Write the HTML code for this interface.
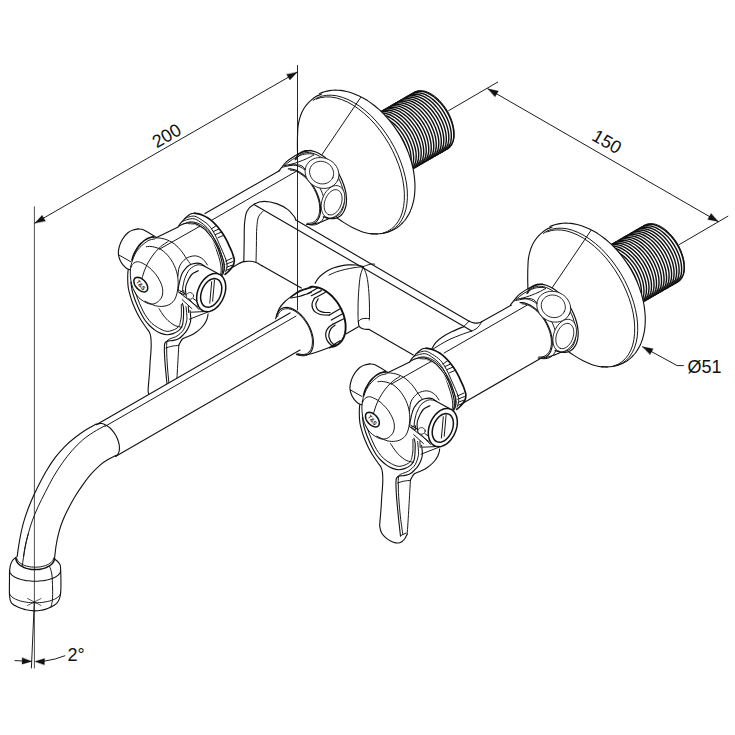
<!DOCTYPE html>
<html><head><meta charset="utf-8"><title>Faucet drawing</title>
<style>
html,body{margin:0;padding:0;background:#fff;}
body{width:735px;height:735px;overflow:hidden;font-family:"Liberation Sans",sans-serif;}
svg{display:block}
svg path{stroke:#111;stroke-linecap:round;stroke-linejoin:round}
svg path.ns{stroke:none}
svg path.tx{stroke:none;fill:#111}
svg text{font-family:"Liberation Sans",sans-serif;font-size:18px;fill:#111}
</style></head><body>
<svg width="735" height="735" viewBox="0 0 735 735">
<rect width="735" height="735" fill="#fff"/>
<defs><g id="fl" fill="none"><path d="M397.8 177.6 L447.4 149.0 L449.0 147.8 L450.4 146.4 L451.6 144.6 L452.6 142.7 L453.4 140.4 L453.9 138.0 L454.1 135.3 L454.1 132.5 L453.9 129.6 L453.4 126.6 L452.6 123.5 L451.6 120.3 L450.4 117.2 L449.0 114.1 L447.4 111.1 L445.6 108.2 L443.6 105.4 L441.5 102.8 L439.3 100.4 L437.0 98.2 L434.6 96.2 L432.2 94.5 L429.8 93.1 L427.3 92.0 L425.0 91.2 L422.7 90.8 L420.4 90.6 L418.3 90.8 L416.4 91.3 L414.6 92.1 L365.0 120.8Z" stroke-width="1.0" fill="#fff" />
<path d="M413.3 92.9 L414.8 92.1 L416.5 91.6 L418.2 91.3 L420.1 91.3 L422.0 91.4 L423.9 91.8 L425.9 92.4 L428.0 93.3 L430.0 94.3 L432.1 95.6 L434.1 97.0 L436.1 98.6 L438.1 100.4 L440.0 102.4 L441.8 104.5 L443.6 106.7 L445.2 109.0 L446.7 111.4 L448.1 113.9 L449.4 116.5 L450.5 119.1 L451.5 121.7 L452.3 124.2 L452.9 126.8 L453.4 129.3 L453.7 131.8 L453.8 134.1 L453.8 136.4 L453.6 138.5 L453.2 140.5 L452.6 142.4 L451.9 144.1 L451.0 145.6 L449.9 146.9 L448.7 148.0 L447.4 149.0" stroke-width="1.42" fill="none" />
<path d="M451.3 143.1 L450.6 144.8 L449.7 146.3 L448.6 147.6 L447.4 148.8 L446.1 149.7" stroke-width="0.7" fill="none" />
<path d="M410.8 94.3 L412.3 93.6 L414.0 93.1 L415.7 92.8 L417.5 92.7 L419.4 92.9 L421.4 93.3 L423.4 93.9 L425.5 94.7 L427.5 95.8 L429.6 97.0 L431.6 98.5 L433.6 100.1 L435.6 101.9 L437.5 103.8 L439.3 105.9 L441.1 108.2 L442.7 110.5 L444.2 112.9 L445.6 115.4 L446.9 117.9 L448.0 120.5 L449.0 123.1 L449.8 125.7 L450.4 128.2 L450.9 130.8 L451.2 133.2 L451.3 135.6 L451.3 137.8 L451.1 140.0 L450.7 142.0 L450.1 143.8 L449.3 145.5 L448.4 147.0 L447.4 148.4 L446.2 149.5 L444.9 150.4" stroke-width="1.42" fill="none" />
<path d="M448.8 144.6 L448.1 146.3 L447.2 147.8 L446.1 149.1 L444.9 150.2 L443.6 151.1" stroke-width="0.7" fill="none" />
<path d="M408.3 95.8 L409.8 95.0 L411.5 94.5 L413.2 94.2 L415.0 94.2 L416.9 94.3 L418.9 94.7 L420.9 95.3 L422.9 96.2 L425.0 97.2 L427.1 98.5 L429.1 99.9 L431.1 101.5 L433.1 103.3 L435.0 105.3 L436.8 107.4 L438.5 109.6 L440.2 111.9 L441.7 114.3 L443.1 116.8 L444.4 119.4 L445.5 122.0 L446.5 124.6 L447.3 127.1 L447.9 129.7 L448.4 132.2 L448.7 134.7 L448.8 137.0 L448.8 139.3 L448.5 141.4 L448.1 143.4 L447.6 145.3 L446.8 147.0 L445.9 148.5 L444.9 149.8 L443.7 150.9 L442.4 151.9" stroke-width="1.42" fill="none" />
<path d="M446.3 146.0 L445.6 147.7 L444.7 149.2 L443.6 150.5 L442.4 151.7 L441.1 152.6" stroke-width="0.7" fill="none" />
<path d="M405.8 97.2 L407.3 96.5 L408.9 96.0 L410.7 95.7 L412.5 95.6 L414.4 95.8 L416.4 96.2 L418.4 96.8 L420.4 97.6 L422.5 98.7 L424.5 99.9 L426.6 101.4 L428.6 103.0 L430.6 104.8 L432.5 106.7 L434.3 108.8 L436.0 111.1 L437.7 113.4 L439.2 115.8 L440.6 118.3 L441.9 120.8 L443.0 123.4 L444.0 126.0 L444.8 128.6 L445.4 131.1 L445.9 133.7 L446.2 136.1 L446.3 138.5 L446.3 140.7 L446.0 142.9 L445.6 144.9 L445.1 146.7 L444.3 148.4 L443.4 149.9 L442.4 151.3 L441.2 152.4 L439.8 153.3" stroke-width="1.42" fill="none" />
<path d="M443.8 147.5 L443.1 149.2 L442.2 150.7 L441.1 152.0 L439.9 153.1 L438.6 154.0" stroke-width="0.7" fill="none" />
<path d="M403.3 98.7 L404.8 97.9 L406.4 97.4 L408.2 97.1 L410.0 97.1 L411.9 97.2 L413.9 97.6 L415.9 98.2 L417.9 99.1 L420.0 100.1 L422.0 101.4 L424.1 102.8 L426.1 104.4 L428.0 106.2 L430.0 108.2 L431.8 110.3 L433.5 112.5 L435.2 114.8 L436.7 117.2 L438.1 119.7 L439.4 122.3 L440.5 124.9 L441.5 127.5 L442.3 130.0 L442.9 132.6 L443.4 135.1 L443.7 137.6 L443.8 139.9 L443.7 142.2 L443.5 144.3 L443.1 146.3 L442.5 148.2 L441.8 149.9 L440.9 151.4 L439.9 152.7 L438.7 153.8 L437.3 154.8" stroke-width="1.42" fill="none" />
<path d="M441.3 148.9 L440.5 150.6 L439.7 152.1 L438.6 153.4 L437.4 154.6 L436.1 155.5" stroke-width="0.7" fill="none" />
<path d="M400.8 100.1 L402.3 99.4 L403.9 98.9 L405.7 98.6 L407.5 98.5 L409.4 98.7 L411.4 99.1 L413.4 99.7 L415.4 100.5 L417.5 101.6 L419.5 102.8 L421.6 104.3 L423.6 105.9 L425.5 107.7 L427.4 109.6 L429.3 111.7 L431.0 114.0 L432.7 116.3 L434.2 118.7 L435.6 121.2 L436.8 123.7 L438.0 126.3 L438.9 128.9 L439.7 131.5 L440.4 134.0 L440.9 136.6 L441.2 139.0 L441.3 141.4 L441.2 143.6 L441.0 145.8 L440.6 147.8 L440.0 149.6 L439.3 151.3 L438.4 152.8 L437.3 154.2 L436.1 155.3 L434.8 156.2" stroke-width="1.42" fill="none" />
<path d="M438.8 150.4 L438.0 152.1 L437.1 153.6 L436.1 154.9 L434.9 156.0 L433.6 156.9" stroke-width="0.7" fill="none" />
<path d="M398.2 101.6 L399.8 100.8 L401.4 100.3 L403.2 100.0 L405.0 100.0 L406.9 100.1 L408.9 100.5 L410.9 101.1 L412.9 102.0 L415.0 103.0 L417.0 104.3 L419.1 105.7 L421.1 107.3 L423.0 109.1 L424.9 111.1 L426.8 113.2 L428.5 115.4 L430.1 117.7 L431.7 120.1 L433.1 122.6 L434.3 125.2 L435.5 127.8 L436.4 130.4 L437.2 132.9 L437.9 135.5 L438.4 138.0 L438.7 140.5 L438.8 142.8 L438.7 145.1 L438.5 147.2 L438.1 149.2 L437.5 151.1 L436.8 152.8 L435.9 154.3 L434.8 155.6 L433.6 156.7 L432.3 157.7" stroke-width="1.42" fill="none" />
<path d="M436.3 151.8 L435.5 153.5 L434.6 155.0 L433.6 156.3 L432.4 157.5 L431.0 158.4" stroke-width="0.7" fill="none" />
<path d="M395.7 103.0 L397.3 102.3 L398.9 101.8 L400.6 101.5 L402.5 101.4 L404.4 101.6 L406.3 102.0 L408.3 102.6 L410.4 103.4 L412.4 104.5 L414.5 105.7 L416.5 107.2 L418.6 108.8 L420.5 110.6 L422.4 112.5 L424.2 114.6 L426.0 116.9 L427.6 119.2 L429.2 121.6 L430.6 124.1 L431.8 126.6 L432.9 129.2 L433.9 131.8 L434.7 134.4 L435.4 136.9 L435.8 139.5 L436.1 141.9 L436.3 144.3 L436.2 146.5 L436.0 148.7 L435.6 150.7 L435.0 152.5 L434.3 154.2 L433.4 155.7 L432.3 157.1 L431.1 158.2 L429.8 159.1" stroke-width="1.42" fill="none" />
<path d="M433.8 153.3 L433.0 155.0 L432.1 156.5 L431.1 157.8 L429.9 158.9 L428.5 159.8" stroke-width="0.7" fill="none" />
<path d="M393.2 104.5 L394.8 103.7 L396.4 103.2 L398.1 102.9 L400.0 102.9 L401.9 103.0 L403.8 103.4 L405.8 104.0 L407.9 104.9 L409.9 105.9 L412.0 107.2 L414.0 108.6 L416.0 110.2 L418.0 112.0 L419.9 114.0 L421.7 116.1 L423.5 118.3 L425.1 120.6 L426.6 123.0 L428.0 125.5 L429.3 128.1 L430.4 130.7 L431.4 133.3 L432.2 135.8 L432.9 138.4 L433.3 140.9 L433.6 143.4 L433.8 145.7 L433.7 148.0 L433.5 150.1 L433.1 152.1 L432.5 154.0 L431.8 155.7 L430.9 157.2 L429.8 158.5 L428.6 159.6 L427.3 160.6" stroke-width="1.42" fill="none" />
<path d="M431.2 154.7 L430.5 156.4 L429.6 157.9 L428.6 159.2 L427.4 160.4 L426.0 161.3" stroke-width="0.7" fill="none" />
<path d="M390.7 105.9 L392.2 105.2 L393.9 104.7 L395.6 104.4 L397.4 104.3 L399.4 104.5 L401.3 104.9 L403.3 105.5 L405.4 106.3 L407.4 107.4 L409.5 108.6 L411.5 110.1 L413.5 111.7 L415.5 113.5 L417.4 115.4 L419.2 117.5 L421.0 119.8 L422.6 122.1 L424.1 124.5 L425.5 127.0 L426.8 129.5 L427.9 132.1 L428.9 134.7 L429.7 137.3 L430.3 139.8 L430.8 142.4 L431.1 144.8 L431.2 147.2 L431.2 149.4 L431.0 151.6 L430.6 153.6 L430.0 155.4 L429.2 157.1 L428.3 158.6 L427.3 160.0 L426.1 161.1 L424.8 162.0" stroke-width="1.42" fill="none" />
<path d="M428.7 156.2 L428.0 157.9 L427.1 159.4 L426.0 160.7 L424.8 161.8 L423.5 162.7" stroke-width="0.7" fill="none" />
<path d="M388.2 107.4 L389.7 106.6 L391.4 106.1 L393.1 105.8 L394.9 105.8 L396.8 105.9 L398.8 106.3 L400.8 106.9 L402.9 107.8 L404.9 108.8 L407.0 110.1 L409.0 111.5 L411.0 113.1 L413.0 114.9 L414.9 116.9 L416.7 119.0 L418.5 121.2 L420.1 123.5 L421.6 125.9 L423.0 128.4 L424.3 131.0 L425.4 133.6 L426.4 136.2 L427.2 138.7 L427.8 141.3 L428.3 143.8 L428.6 146.3 L428.7 148.6 L428.7 150.9 L428.5 153.0 L428.0 155.0 L427.5 156.9 L426.7 158.6 L425.8 160.1 L424.8 161.4 L423.6 162.5 L422.3 163.5" stroke-width="1.42" fill="none" />
<path d="M426.2 157.6 L425.5 159.3 L424.6 160.8 L423.5 162.1 L422.3 163.3 L421.0 164.2" stroke-width="0.7" fill="none" />
<path d="M385.7 108.8 L387.2 108.1 L388.9 107.6 L390.6 107.3 L392.4 107.2 L394.3 107.4 L396.3 107.8 L398.3 108.4 L400.3 109.2 L402.4 110.3 L404.5 111.5 L406.5 113.0 L408.5 114.6 L410.5 116.4 L412.4 118.3 L414.2 120.4 L415.9 122.7 L417.6 125.0 L419.1 127.4 L420.5 129.9 L421.8 132.4 L422.9 135.0 L423.9 137.6 L424.7 140.2 L425.3 142.7 L425.8 145.3 L426.1 147.7 L426.2 150.1 L426.2 152.3 L425.9 154.5 L425.5 156.5 L425.0 158.3 L424.2 160.0 L423.3 161.5 L422.3 162.9 L421.1 164.0 L419.7 164.9" stroke-width="1.42" fill="none" />
<path d="M423.7 159.1 L423.0 160.8 L422.1 162.3 L421.0 163.6 L419.8 164.7 L418.5 165.6" stroke-width="0.7" fill="none" />
<path d="M383.2 110.3 L384.7 109.5 L386.3 109.0 L388.1 108.7 L389.9 108.7 L391.8 108.8 L393.8 109.2 L395.8 109.8 L397.8 110.7 L399.9 111.7 L401.9 113.0 L404.0 114.4 L406.0 116.0 L408.0 117.8 L409.9 119.8 L411.7 121.9 L413.4 124.1 L415.1 126.4 L416.6 128.8 L418.0 131.3 L419.3 133.9 L420.4 136.5 L421.4 139.1 L422.2 141.6 L422.8 144.2 L423.3 146.7 L423.6 149.2 L423.7 151.5 L423.7 153.8 L423.4 155.9 L423.0 157.9 L422.5 159.8 L421.7 161.5 L420.8 163.0 L419.8 164.3 L418.6 165.4 L417.2 166.4" stroke-width="1.42" fill="none" />
<path d="M421.2 160.5 L420.5 162.2 L419.6 163.7 L418.5 165.0 L417.3 166.2 L416.0 167.1" stroke-width="0.7" fill="none" />
<path d="M380.7 111.7 L382.2 111.0 L383.8 110.5 L385.6 110.2 L387.4 110.1 L389.3 110.3 L391.3 110.7 L393.3 111.3 L395.3 112.1 L397.4 113.2 L399.4 114.4 L401.5 115.9 L403.5 117.5 L405.4 119.3 L407.3 121.2 L409.2 123.3 L410.9 125.6 L412.6 127.9 L414.1 130.3 L415.5 132.8 L416.8 135.3 L417.9 137.9 L418.8 140.5 L419.7 143.1 L420.3 145.6 L420.8 148.2 L421.1 150.6 L421.2 153.0 L421.1 155.2 L420.9 157.4 L420.5 159.4 L419.9 161.2 L419.2 162.9 L418.3 164.4 L417.3 165.8 L416.1 166.9 L414.7 167.8" stroke-width="1.42" fill="none" />
<path d="M418.7 162.0 L417.9 163.7 L417.0 165.2 L416.0 166.5 L414.8 167.6 L413.5 168.5" stroke-width="0.7" fill="none" />
<path d="M378.2 113.2 L379.7 112.4 L381.3 111.9 L383.1 111.6 L384.9 111.6 L386.8 111.7 L388.8 112.1 L390.8 112.7 L392.8 113.6 L394.9 114.6 L396.9 115.9 L399.0 117.3 L401.0 118.9 L402.9 120.7 L404.8 122.7 L406.7 124.8 L408.4 127.0 L410.0 129.3 L411.6 131.7 L413.0 134.2 L414.2 136.8 L415.4 139.4 L416.3 142.0 L417.1 144.5 L417.8 147.1 L418.3 149.6 L418.6 152.1 L418.7 154.4 L418.6 156.7 L418.4 158.8 L418.0 160.8 L417.4 162.7 L416.7 164.4 L415.8 165.9 L414.7 167.2 L413.5 168.3 L412.2 169.3" stroke-width="1.42" fill="none" />
<path d="M416.2 163.4 L415.4 165.1 L414.5 166.6 L413.5 167.9 L412.3 169.1 L411.0 170.0" stroke-width="0.7" fill="none" />
<path d="M375.6 114.6 L377.2 113.9 L378.8 113.4 L380.6 113.1 L382.4 113.0 L384.3 113.2 L386.2 113.6 L388.3 114.2 L390.3 115.0 L392.4 116.1 L394.4 117.3 L396.4 118.8 L398.5 120.4 L400.4 122.2 L402.3 124.1 L404.2 126.2 L405.9 128.5 L407.5 130.8 L409.1 133.2 L410.5 135.7 L411.7 138.2 L412.9 140.8 L413.8 143.4 L414.6 146.0 L415.3 148.5 L415.8 151.1 L416.1 153.5 L416.2 155.9 L416.1 158.1 L415.9 160.3 L415.5 162.3 L414.9 164.1 L414.2 165.8 L413.3 167.3 L412.2 168.7 L411.0 169.8 L409.7 170.7" stroke-width="1.42" fill="none" />
<path d="M413.7 164.9 L412.9 166.6 L412.0 168.1 L411.0 169.4 L409.8 170.5 L408.4 171.4" stroke-width="0.7" fill="none" />
<path d="M373.1 116.1 L374.7 115.3 L376.3 114.8 L378.0 114.5 L379.9 114.5 L381.8 114.6 L383.7 115.0 L385.7 115.6 L387.8 116.5 L389.8 117.5 L391.9 118.8 L393.9 120.2 L395.9 121.8 L397.9 123.6 L399.8 125.6 L401.6 127.7 L403.4 129.9 L405.0 132.2 L406.6 134.6 L408.0 137.1 L409.2 139.7 L410.3 142.3 L411.3 144.9 L412.1 147.4 L412.8 150.0 L413.2 152.5 L413.5 155.0 L413.7 157.3 L413.6 159.6 L413.4 161.7 L413.0 163.7 L412.4 165.6 L411.7 167.3 L410.8 168.8 L409.7 170.1 L408.5 171.2 L407.2 172.2" stroke-width="1.42" fill="none" />
<path d="M411.2 166.3 L410.4 168.0 L409.5 169.5 L408.5 170.8 L407.3 172.0 L405.9 172.9" stroke-width="0.7" fill="none" />
<path d="M370.6 117.5 L372.1 116.8 L373.8 116.3 L375.5 116.0 L377.4 115.9 L379.3 116.1 L381.2 116.5 L383.2 117.1 L385.3 117.9 L387.3 119.0 L389.4 120.2 L391.4 121.7 L393.4 123.3 L395.4 125.1 L397.3 127.0 L399.1 129.1 L400.9 131.4 L402.5 133.7 L404.0 136.1 L405.4 138.6 L406.7 141.1 L407.8 143.7 L408.8 146.3 L409.6 148.9 L410.3 151.4 L410.7 154.0 L411.0 156.4 L411.2 158.8 L411.1 161.0 L410.9 163.2 L410.5 165.2 L409.9 167.0 L409.2 168.7 L408.3 170.2 L407.2 171.6 L406.0 172.7 L404.7 173.6" stroke-width="1.42" fill="none" />
<path d="M408.6 167.8 L407.9 169.5 L407.0 171.0 L406.0 172.3 L404.8 173.4 L403.4 174.3" stroke-width="0.7" fill="none" />
<path d="M368.1 119.0 L369.6 118.2 L371.3 117.7 L373.0 117.4 L374.8 117.4 L376.7 117.5 L378.7 117.9 L380.7 118.5 L382.8 119.4 L384.8 120.4 L386.9 121.7 L388.9 123.1 L390.9 124.7 L392.9 126.5 L394.8 128.5 L396.6 130.6 L398.4 132.8 L400.0 135.1 L401.5 137.5 L402.9 140.0 L404.2 142.6 L405.3 145.2 L406.3 147.8 L407.1 150.3 L407.7 152.9 L408.2 155.4 L408.5 157.9 L408.6 160.2 L408.6 162.5 L408.4 164.6 L408.0 166.6 L407.4 168.5 L406.6 170.2 L405.7 171.7 L404.7 173.0 L403.5 174.1 L402.2 175.1" stroke-width="1.42" fill="none" />
<path d="M406.1 169.2 L405.4 170.9 L404.5 172.4 L403.4 173.7 L402.2 174.9 L400.9 175.8" stroke-width="0.7" fill="none" />
<path d="M365.6 120.4 L367.1 119.7 L368.8 119.2 L370.5 118.9 L372.3 118.8 L374.2 119.0 L376.2 119.4 L378.2 120.0 L380.3 120.8 L382.3 121.9 L384.4 123.1 L386.4 124.6 L388.4 126.2 L390.4 128.0 L392.3 129.9 L394.1 132.0 L395.9 134.3 L397.5 136.6 L399.0 139.0 L400.4 141.5 L401.7 144.0 L402.8 146.6 L403.8 149.2 L404.6 151.8 L405.2 154.3 L405.7 156.9 L406.0 159.3 L406.1 161.7 L406.1 163.9 L405.8 166.1 L405.4 168.1 L404.9 169.9 L404.1 171.6 L403.2 173.1 L402.2 174.5 L401.0 175.6 L399.7 176.5" stroke-width="1.42" fill="none" />
<path d="M403.6 170.7 L402.9 172.4 L402.0 173.9 L400.9 175.2 L399.7 176.3 L398.4 177.2" stroke-width="0.7" fill="none" />
<path d="M394.7 229.1 L391.5 230.7 L388.1 232.0 L384.6 233.0 L380.9 233.6 L377.1 233.9 L373.3 233.8 L369.3 233.3 L365.2 232.5 L361.1 231.4 L357.0 229.9 L352.9 228.1 L348.8 226.0 L344.7 223.6 L340.7 220.8 L336.8 217.8 L332.9 214.5 L329.2 211.0 L325.6 207.2 L322.1 203.2 L318.9 199.0 L315.7 194.6 L312.8 190.0 L310.1 185.3 L307.6 180.5 L305.4 175.7 L303.4 170.7 L301.7 165.7 L300.2 160.7 L299.0 155.7 L298.0 150.7 L297.4 145.8 L297.0 140.9 L297.0 136.2 L297.2 131.6 L297.7 127.1 L298.4 122.8 L299.5 118.7 L300.8 114.8 L302.5 111.1 L304.3 107.7 L306.4 104.6 L308.8 101.7 L311.4 99.1 L314.2 96.8 L317.2 94.9 L320.4 93.3 L323.8 92.0 L327.3 91.0 L331.0 90.4 L334.8 90.1 L338.7 90.2 L342.6 90.7 L346.7 91.5 L350.8 92.6 L354.9 94.1 L359.0 95.9 L363.1 98.0 L367.2 100.4 L371.2 103.2 L375.1 106.2 L379.0 109.5 L382.7 113.0 L386.3 116.8 L389.8 120.8 L393.1 125.0 L396.2 129.4 L399.1 134.0 L401.8 138.7 L404.3 143.5 L406.5 148.3 L408.5 153.3 L410.3 158.3 L411.7 163.3 L413.0 168.3 L413.9 173.3 L414.5 178.2 L414.9 183.1 L415.0 187.8 L414.8 192.4 L414.3 196.9 L413.5 201.2 L412.4 205.3 L411.1 209.2 L409.5 212.9 L407.6 216.3 L405.5 219.4 L403.1 222.3 L400.5 224.9 L397.7 227.2 L394.7 229.1Z" stroke-width="1.0" fill="#fff" class="ns"/>
<path d="M321.6 94.1 L316.0 96.5 L311.8 99.6 L307.6 103.6 L304.1 108.3 L301.6 113.0 L299.8 118.1 L298.5 123.5 L297.8 129.0 L297.4 145.0 L297.8 160.0 L310.0 200.0 L335.2 216.7 L344.0 222.6 L353.3 228.1 L360.0 230.9 L365.5 232.7 L371.5 233.9 L377.0 234.0Z" stroke-width="1.0" fill="#fff" class="ns"/>
<path d="M319.6 93.6 L322.0 92.6 L324.5 91.7 L327.0 91.1 L329.7 90.6 L332.4 90.3 L335.2 90.1 L338.0 90.2 L340.8 90.4 L343.7 90.9 L346.7 91.5 L349.6 92.2 L352.6 93.2 L355.6 94.4 L358.6 95.7 L361.6 97.2 L364.5 98.8 L367.5 100.6 L370.4 102.6 L373.3 104.7 L376.1 107.0 L378.9 109.4 L381.6 111.9 L384.3 114.6 L386.8 117.4 L389.4 120.3 L391.8 123.3 L394.1 126.4 L396.3 129.6 L398.5 132.9 L400.5 136.3 L402.4 139.7 L404.2 143.2 L405.8 146.7 L407.4 150.3 L408.8 153.9 L410.0 157.5 L411.2 161.2 L412.1 164.8 L413.0 168.4 L413.7 172.1 L414.2 175.6 L414.6 179.2 L414.9 182.7 L415.0 186.2 L414.9 189.6 L414.7 192.9 L414.4 196.1 L413.9 199.3 L413.2 202.3 L412.4 205.3 L411.5 208.1 L410.4 210.9 L409.2 213.5 L407.8 215.9 L406.3 218.3 L404.7 220.5 L402.9 222.5 L401.1 224.4 L399.1 226.1 L397.0 227.7 L394.8 229.1 L392.5 230.3 L390.1 231.3 L387.6 232.2 L385.1 232.9 L382.4 233.4 L379.7 233.7 L377.0 233.9 L374.1 233.8 L371.3 233.6" stroke-width="1.12" fill="none" />
<path d="M387.5 232.2 L391.8 230.3 L395.6 227.5 L399.0 224.1 L401.8 219.9 L404.1 215.2 L405.8 209.8 L406.9 204.0 L407.4 197.6 L407.3 191.0 L406.6 184.0 L405.2 176.7 L403.3 169.4 L400.8 162.0 L397.8 154.6 L394.3 147.3 L390.3 140.2 L385.9 133.4 L381.1 127.0 L376.0 121.0 L370.7 115.4 L365.1 110.5 L359.4 106.1 L353.7 102.5 L348.0 99.5 L342.3 97.3 L336.8 95.8 L331.4 95.2 L326.3 95.3 L321.5 96.2 L317.1 97.9 L313.1 100.4" stroke-width="0.98" fill="none" />
<path d="M383.3 233.0 L387.7 231.3 L391.6 228.8 L395.1 225.6 L398.0 221.8 L400.5 217.2 L402.4 212.1 L403.6 206.5 L404.3 200.3 L404.4 193.8 L403.9 187.0 L402.8 179.9 L401.1 172.6 L398.8 165.3 L395.9 158.0 L392.6 150.7 L388.8 143.7 L384.5 136.8 L379.9 130.3 L375.0 124.2 L369.8 118.6 L364.3 113.5 L358.7 109.0 L353.1 105.2 L347.4 102.0 L341.7 99.6 L336.2 97.9 L330.9 97.0 L325.7 96.9 L320.9 97.6 L316.4 99.0" stroke-width="0.98" fill="none" />
<path d="M321.6 94.1 C320.7 94.5 317.6 95.6 316.0 96.5 C314.4 97.4 313.2 98.4 311.8 99.6 C310.4 100.8 308.9 102.1 307.6 103.6 C306.3 105.0 305.1 106.7 304.1 108.3 C303.1 109.9 302.3 111.4 301.6 113.0 C300.9 114.6 300.3 116.3 299.8 118.1 C299.3 119.8 298.8 121.7 298.5 123.5 C298.2 125.3 298.0 125.4 297.8 129.0 C297.6 132.6 297.4 139.8 297.4 145.0 C297.4 150.2 297.7 157.5 297.8 160.0" stroke-width="1.12" fill="none" />
<path d="M335.2 216.7 C336.7 217.7 341.0 220.7 344.0 222.6 C347.0 224.5 350.6 226.7 353.3 228.1 C356.0 229.5 358.0 230.1 360.0 230.9 C362.0 231.7 363.6 232.2 365.5 232.7 C367.4 233.2 369.6 233.7 371.5 233.9 C373.4 234.1 376.1 234.0 377.0 234.0" stroke-width="1.12" fill="none" />
<path d="M360.7 97.4 L321.6 155.1" stroke-width="0.98" fill="none" /></g>
<g id="nt" fill="none"><path d="M323.3 216.8 L326.0 217.8 L328.7 218.5 L331.3 218.7 L333.8 218.6 L336.1 218.1 L338.2 217.3 L340.2 216.0 L341.9 214.5 L343.3 212.5 L344.5 210.3 L345.4 207.8 L346.1 205.0 L346.4 202.0 L346.5 198.8 L346.2 195.4 L345.7 191.9 L344.8 188.3 L343.7 184.7 L342.3 181.1 L340.7 177.5 L338.9 174.1 L336.8 170.7 L334.5 167.5 L332.1 164.4 L329.6 161.6 L326.9 159.1 L324.2 156.8 L321.4 154.9 L318.6 153.3 L315.8 152.0 L313.0 151.1 L310.4 150.6 L307.8 150.5 L305.4 150.7 L303.2 151.3 L301.1 152.3 L299.3 153.7 L297.6 155.4 L296.3 157.5 L295.2 159.8 L303.2 151.9 L295.0 155.7 L286.3 161.9 L278.8 171.3 L288.3 168.9 L290.3 168.9 L292.5 169.2 L294.7 169.8 L297.0 170.7 L299.3 171.9 L301.6 173.4 L303.9 175.2 L306.1 177.2 L308.2 179.5 L310.3 181.9 L312.2 184.5 L313.9 187.2 L315.5 190.1 L316.9 193.0 L318.1 196.0 L319.1 199.0 L319.8 201.9 L320.3 204.8 L320.6 207.6 L320.6 210.3 L320.4 212.8 L319.9 215.1 L319.2 217.2 L318.3 219.1 L317.1 220.8 L315.8 222.1 L314.2 223.2 L312.5 224.0 L310.6 224.4 L308.6 224.5 L306.5 224.4 L311.9 224.5 L322.6 221.4Z" stroke-width="1.0" fill="#fff" class="ns"/>
<path d="M323.3 216.8 L326.0 217.8 L328.7 218.5 L331.3 218.7 L333.8 218.6 L336.1 218.1 L338.2 217.3 L340.2 216.0 L341.9 214.5 L343.3 212.5 L344.5 210.3 L345.4 207.8 L346.1 205.0 L346.4 202.0 L346.5 198.8 L346.2 195.4 L345.7 191.9 L344.8 188.3 L343.7 184.7 L342.3 181.1 L340.7 177.5 L338.9 174.1 L336.8 170.7 L334.5 167.5 L332.1 164.4 L329.6 161.6 L326.9 159.1 L324.2 156.8 L321.4 154.9 L318.6 153.3 L315.8 152.0 L313.0 151.1 L310.4 150.6 L307.8 150.5 L305.4 150.7 L303.2 151.3 L301.1 152.3 L299.3 153.7 L297.6 155.4 L296.3 157.5 L295.2 159.8" stroke-width="1.2" fill="none" />
<path d="M325.6 217.2 L328.1 217.7 L330.5 217.9 L332.8 217.7 L335.0 217.1 L337.0 216.2 L338.8 214.9 L340.3 213.3 L341.6 211.4 L342.7 209.1 L343.5 206.7 L344.0 203.9 L344.3 201.0 L344.3 197.9 L343.9 194.7 L343.3 191.3 L342.5 187.9 L341.4 184.4 L340.0 181.0 L338.4 177.6 L336.6 174.3 L334.5 171.1 L332.3 168.1 L330.0 165.2 L327.5 162.6 L325.0 160.3 L322.3 158.2 L319.7 156.4 L317.0 154.9 L314.4 153.8 L311.8 153.0 L309.3 152.6 L306.8 152.5 L304.6 152.9 L302.5 153.5 L300.5 154.5 L298.8 155.9 L297.3 157.6 L296.1 159.6" stroke-width="0.98" fill="none" />
<path d="M278.8 171.3 C280.1 169.7 283.6 164.5 286.3 161.9 C289.0 159.3 292.2 157.4 295.0 155.7 C297.8 154.0 300.5 152.8 303.2 151.9 C305.9 151.0 309.7 150.6 311.0 150.3" stroke-width="1.12" fill="none" />
<path d="M311.9 224.5 C313.7 224.0 319.0 222.8 322.6 221.4 C326.2 220.1 331.9 217.2 333.8 216.4" stroke-width="1.12" fill="none" />
<path d="M306.5 224.4 L308.6 224.5 L310.6 224.4 L312.5 224.0 L314.2 223.2 L315.8 222.1 L317.1 220.8 L318.3 219.1 L319.2 217.2 L319.9 215.1 L320.4 212.8 L320.6 210.3 L320.6 207.6 L320.3 204.8 L319.8 201.9 L319.1 199.0 L318.1 196.0 L316.9 193.0 L315.5 190.1 L313.9 187.2 L312.2 184.5 L310.3 181.9 L308.2 179.5 L306.1 177.2 L303.9 175.2 L301.6 173.4 L299.3 171.9 L297.0 170.7 L294.7 169.8 L292.5 169.2 L290.3 168.9 L288.3 168.9" stroke-width="1.12" fill="none" />
<path d="M307.1 223.3 L309.1 223.3 L311.0 223.1 L312.7 222.5 L314.2 221.6 L315.6 220.5 L316.8 219.1 L317.9 217.4 L318.7 215.6 L319.2 213.5 L319.6 211.2 L319.7 208.7 L319.6 206.2 L319.3 203.5 L318.7 200.7 L317.9 197.9 L316.9 195.1 L315.7 192.3 L314.4 189.5 L312.8 186.8 L311.1 184.3 L309.3 181.9 L307.3 179.6 L305.3 177.5 L303.2 175.7 L301.0 174.1 L298.8 172.7 L296.6 171.6 L294.5 170.8 L292.4 170.3 L290.3 170.1" stroke-width="0.98" fill="none" />
<path d="M308.9 224.7 L311.2 225.0 L313.4 225.0 L315.5 224.7 L317.4 224.1 L319.2 223.2 L320.7 221.9 L322.1 220.4 L323.3 218.5 L324.2 216.5 L324.8 214.1 L325.3 211.6 L325.4 208.9 L325.3 206.0 L325.0 203.0 L324.4 200.0 L323.6 196.8 L322.5 193.7 L321.2 190.5 L319.7 187.4 L318.0 184.4 L316.1 181.5 L314.1 178.8 L312.0 176.2 L309.7 173.9 L307.3 171.7 L304.9 169.9 L302.5 168.2 L300.1 166.9 L297.7 165.9 L295.3 165.2 L293.0 164.9 L290.8 164.9 L288.7 165.2" stroke-width="0.98" fill="none" />
<path d="M337.7 180.3 L336.5 182.3 L335.0 184.2 L333.1 185.7 L331.0 186.9 L328.6 187.8 L326.1 188.3 L323.5 188.4 L320.8 188.2 L318.2 187.6 L315.7 186.6 L313.3 185.3 L311.1 183.7 L309.2 181.8 L307.7 179.7 L306.4 177.4 L305.6 175.1 L305.2 172.7 L305.1 170.2 L305.5 167.9 L306.3 165.7 L307.5 163.7 L309.0 161.8 L310.9 160.3 L313.0 159.1 L315.4 158.2 L317.9 157.7 L320.5 157.6 L323.2 157.8 L325.8 158.4 L328.3 159.4 L330.7 160.7 L332.9 162.3 L334.8 164.2 L336.3 166.3 L337.6 168.6 L338.4 170.9 L338.8 173.3 L338.9 175.8 L338.5 178.1 L337.7 180.3Z" stroke-width="0.9" fill="#fff" />
<path d="M332.7 177.8 L331.8 179.3 L330.7 180.6 L329.3 181.8 L327.8 182.7 L326.1 183.4 L324.3 183.8 L322.4 183.9 L320.6 183.8 L318.7 183.3 L316.9 182.7 L315.2 181.7 L313.7 180.6 L312.4 179.2 L311.3 177.7 L310.5 176.1 L309.9 174.3 L309.6 172.6 L309.6 170.8 L309.9 169.1 L310.5 167.4 L311.4 165.9 L312.5 164.6 L313.9 163.4 L315.4 162.5 L317.1 161.8 L318.9 161.4 L320.8 161.3 L322.6 161.4 L324.5 161.9 L326.3 162.5 L328.0 163.5 L329.5 164.6 L330.8 166.0 L331.9 167.5 L332.7 169.1 L333.3 170.9 L333.6 172.6 L333.6 174.4 L333.3 176.1 L332.7 177.8Z" stroke-width="0.9" fill="none" />
<path d="M327.3 217.6 L325.7 216.8 L324.3 215.7 L323.2 214.2 L322.3 212.4 L321.6 210.3 L321.3 208.0 L321.2 205.6 L321.4 203.1 L321.9 200.6 L322.7 198.0 L323.7 195.6 L324.9 193.3 L326.4 191.3 L328.0 189.5 L329.8 188.0 L331.6 186.8 L333.4 186.0 L335.3 185.6 L337.1 185.6 L338.7 186.0 L340.3 186.8 L341.7 187.9 L342.8 189.4 L343.7 191.2 L344.4 193.3 L344.7 195.6 L344.8 198.0 L344.6 200.5 L344.1 203.0 L343.3 205.6 L342.3 208.0 L341.1 210.3 L339.6 212.3 L338.0 214.1 L336.2 215.6 L334.4 216.8 L332.6 217.6 L330.7 218.0 L328.9 218.0 L327.3 217.6Z" stroke-width="0.9" fill="#fff" />
<path d="M328.6 214.6 L327.5 214.0 L326.4 213.1 L325.6 212.0 L324.9 210.6 L324.4 209.0 L324.2 207.2 L324.1 205.4 L324.3 203.4 L324.7 201.4 L325.3 199.5 L326.1 197.6 L327.1 195.8 L328.2 194.2 L329.4 192.8 L330.8 191.6 L332.1 190.7 L333.6 190.0 L335.0 189.7 L336.3 189.7 L337.6 190.0 L338.7 190.6 L339.8 191.5 L340.6 192.6 L341.3 194.0 L341.8 195.6 L342.0 197.4 L342.1 199.2 L341.9 201.2 L341.5 203.2 L340.9 205.1 L340.1 207.0 L339.1 208.8 L338.0 210.4 L336.8 211.8 L335.4 213.0 L334.1 213.9 L332.6 214.6 L331.2 214.9 L329.9 214.9 L328.6 214.6Z" stroke-width="0.9" fill="none" />
<path d="M284.4 165.7 C285.8 164.6 289.5 161.2 292.5 159.4 C295.5 157.6 299.4 155.5 302.5 154.6 C305.6 153.7 309.4 153.7 311.3 153.8 C313.2 153.9 313.4 154.8 313.8 155.0" stroke-width="0.98" fill="none" />
<path d="M284.4 165.7 C286.2 165.3 291.4 164.3 295.0 163.2 C298.6 162.0 303.2 160.2 306.3 158.8 C309.4 157.4 312.6 155.6 313.8 155.0" stroke-width="0.98" fill="none" />
<path d="M282.5 167.2 C283.8 166.9 287.6 166.0 290.0 165.6 C292.4 165.2 294.9 164.7 296.9 164.8 C298.9 164.9 300.6 165.2 302.0 166.0 C303.4 166.8 304.9 168.9 305.5 169.5" stroke-width="0.98" fill="none" /></g>
<g id="hd" fill="none"><path d="M130.6 262.0 L128.2 269.6 L127.7 279.1 L128.3 288.0 L130.4 296.3 L133.2 304.5 L136.9 312.7 L141.0 320.0 L145.9 327.3 L149.3 332.0 L150.8 337.1 L151.2 345.0 L150.8 353.5 L150.1 362.0 L149.6 371.4 L148.9 380.0 L148.3 387.2 L148.2 391.7 L150.0 398.0 L154.6 403.1 L159.0 406.0 L164.1 407.9 L168.0 407.7 L170.8 406.2 L173.5 403.2 L175.6 399.2 L175.6 399.2 L177.3 372.0 L178.8 345.2 L178.8 345.2 L182.0 339.5 L186.7 337.1 L193.0 334.2 L198.2 330.6 L203.0 326.0 L206.3 320.8 L207.8 316.0 L208.0 311.0 L212.0 290.0 L180.0 262.0 L150.0 255.0Z" stroke-width="1.0" fill="#fff" class="ns"/>
<path d="M130.6 262.0 C130.2 263.3 128.7 266.8 128.2 269.6 C127.7 272.5 127.7 276.0 127.7 279.1 C127.7 282.2 127.9 285.1 128.3 288.0 C128.8 290.9 129.6 293.6 130.4 296.3 C131.2 299.1 132.1 301.8 133.2 304.5 C134.3 307.2 135.6 310.1 136.9 312.7 C138.2 315.3 139.5 317.6 141.0 320.0 C142.5 322.4 144.5 325.3 145.9 327.3 C147.3 329.3 148.5 330.4 149.3 332.0 C150.1 333.6 150.5 334.9 150.8 337.1 C151.1 339.3 151.2 342.3 151.2 345.0 C151.2 347.7 151.0 350.7 150.8 353.5 C150.6 356.3 150.3 359.0 150.1 362.0 C149.9 365.0 149.8 368.4 149.6 371.4 C149.4 374.4 149.1 377.4 148.9 380.0 C148.7 382.6 148.4 385.2 148.3 387.2 C148.2 389.1 147.9 389.9 148.2 391.7 C148.5 393.5 148.9 396.1 150.0 398.0 C151.1 399.9 153.1 401.8 154.6 403.1 C156.1 404.4 157.4 405.2 159.0 406.0 C160.6 406.8 162.6 407.6 164.1 407.9 C165.6 408.2 166.9 408.0 168.0 407.7 C169.1 407.4 169.9 406.9 170.8 406.2 C171.7 405.4 172.7 404.4 173.5 403.2 C174.3 402.0 175.2 399.9 175.6 399.2" stroke-width="1.12" fill="none" />
<path d="M190.0 310.2 C190.1 311.7 190.9 316.7 190.8 319.2 C190.7 321.7 190.2 323.1 189.5 325.0 C188.8 326.9 187.8 328.9 186.7 330.6 C185.6 332.3 184.3 333.6 183.0 335.0 C181.7 336.4 180.2 337.9 178.6 338.8 C177.0 339.7 175.1 340.0 173.5 340.4 C171.9 340.8 170.1 340.7 168.8 340.9 C167.6 341.1 166.7 341.3 166.0 341.8 C165.3 342.3 165.0 342.8 164.7 343.7 C164.4 344.6 164.4 346.1 164.4 347.5 C164.4 348.9 164.3 348.9 164.4 351.8 C164.5 354.7 164.8 360.3 165.2 365.0 C165.6 369.7 166.0 374.0 166.6 380.0 C167.2 386.0 168.5 397.7 168.9 401.2" stroke-width="1.12" fill="none" />
<path d="M175.6 399.2 C175.9 394.7 176.8 381.0 177.3 372.0 C177.8 363.0 178.6 349.7 178.8 345.2" stroke-width="0.98" fill="none" />
<path d="M166.0 348.0 C167.0 347.7 169.9 346.6 172.0 346.2 C174.1 345.8 177.5 345.5 178.6 345.4" stroke-width="0.98" fill="none" />
<path d="M169.4 400.4 L174.6 398.0" stroke-width="0.98" fill="none" />
<path d="M208.0 311.0 C208.0 311.8 208.1 314.4 207.8 316.0 C207.5 317.6 207.1 319.1 206.3 320.8 C205.5 322.5 204.3 324.4 203.0 326.0 C201.7 327.6 199.9 329.2 198.2 330.6 C196.5 332.0 194.9 333.1 193.0 334.2 C191.1 335.3 188.5 336.2 186.7 337.1 C184.9 338.0 183.3 338.1 182.0 339.5 C180.7 340.9 179.3 344.2 178.8 345.2" stroke-width="1.12" fill="none" />
<path d="M130.8 282.0 C131.0 283.3 131.5 287.3 132.0 289.8 C132.5 292.3 133.2 294.6 134.0 297.0 C134.8 299.4 135.8 302.0 136.9 304.5 C138.0 307.0 139.1 309.6 140.3 312.0 C141.5 314.4 142.8 316.9 144.3 319.2 C145.8 321.4 147.6 323.6 149.5 325.5 C151.4 327.4 153.8 329.3 155.7 330.6 C157.6 331.9 159.1 332.7 161.0 333.4 C162.9 334.1 165.1 334.7 167.1 334.7 C169.1 334.7 171.1 334.3 173.0 333.6 C174.9 332.9 177.2 331.6 178.6 330.6 C180.0 329.6 180.6 328.6 181.3 327.5 C182.0 326.4 182.3 326.0 182.7 324.1 C183.1 322.2 183.4 318.7 183.5 316.0 C183.6 313.3 183.8 310.3 183.5 307.8 C183.2 305.3 182.4 303.1 181.8 301.2 C181.2 299.3 180.6 298.0 180.0 296.5 C179.4 295.0 178.8 293.4 178.4 292.0 C178.0 290.6 177.8 288.7 177.7 288.0" stroke-width="1.12" fill="none" />
<path d="M133.5 282.0 C133.7 283.3 134.2 287.3 134.8 289.8 C135.4 292.3 136.2 294.7 137.0 297.0 C137.8 299.3 138.7 301.5 139.7 303.8 C140.7 306.1 141.8 308.7 143.0 311.0 C144.2 313.3 145.5 315.6 147.0 317.6 C148.5 319.7 150.1 321.7 151.8 323.3 C153.5 324.9 155.7 326.2 157.4 327.3 C159.1 328.4 160.4 329.1 162.0 329.8 C163.6 330.5 165.4 331.3 167.1 331.4 C168.8 331.5 170.6 330.9 172.2 330.4 C173.8 329.9 175.7 329.0 176.9 328.2 C178.1 327.4 178.8 326.3 179.3 325.4 C179.9 324.4 179.9 324.1 180.2 322.5 C180.5 320.9 181.1 319.0 181.3 316.0 C181.5 313.0 181.3 306.4 181.3 304.5" stroke-width="0.98" fill="none" />
<path d="M186.0 306.0 C186.1 307.5 186.7 312.5 186.8 315.0 C186.9 317.5 187.2 318.3 186.7 320.8 C186.1 323.3 185.1 327.3 183.5 329.8 C181.9 332.3 179.1 334.6 177.0 336.0 C174.9 337.4 172.7 337.6 171.0 338.5 C169.3 339.4 167.8 339.1 167.1 341.2 C166.4 343.3 166.7 347.0 166.7 351.0 C166.7 355.0 167.0 359.8 167.3 365.0 C167.7 370.2 168.2 376.2 168.8 382.0 C169.5 387.8 170.8 396.6 171.2 399.5" stroke-width="0.98" fill="none" />
<path d="M159.0 308.6 C159.6 309.5 161.3 312.4 162.5 314.0 C163.7 315.6 164.7 317.1 166.0 318.5 C167.3 319.9 168.9 321.4 170.5 322.6 C172.1 323.8 173.4 324.9 175.3 325.7 C177.2 326.5 180.7 327.0 181.8 327.3" stroke-width="0.98" fill="none" />
<path d="M178.2 226.9 L180.4 223.4 L183.3 220.3 L186.2 217.2 L189.4 214.7 L192.0 213.5 L194.5 213.2 L198.5 213.8 L202.7 215.2 L208.0 218.0 L212.9 221.8 L217.8 227.0 L222.0 232.6 L226.0 239.2 L229.2 245.8 L231.6 251.0 L233.3 256.0 L234.2 259.2 L234.1 262.1 L233.2 265.5 L231.2 268.3 L228.5 271.5 L225.1 274.4 L221.0 276.4 L222.6 271.3 L222.7 267.0 L222.0 262.1 L220.3 255.5 L218.0 248.9 L215.2 243.2 L211.8 237.7 L208.0 232.8 L203.7 228.5 L199.2 225.4 L194.5 223.4 L190.0 222.8 L185.3 223.4 L181.5 224.8 L178.2 226.9Z" stroke-width="1.0" fill="#fff" class="ns"/>
<path d="M194.5 213.2 C195.2 213.3 197.1 213.5 198.5 213.8 C199.9 214.1 201.1 214.5 202.7 215.2 C204.3 215.9 206.3 216.9 208.0 218.0 C209.7 219.1 211.3 220.3 212.9 221.8 C214.5 223.3 216.3 225.2 217.8 227.0 C219.3 228.8 220.6 230.6 222.0 232.6 C223.4 234.6 224.8 237.0 226.0 239.2 C227.2 241.4 228.3 243.8 229.2 245.8 C230.1 247.8 230.9 249.3 231.6 251.0 C232.3 252.7 232.9 254.6 233.3 256.0 C233.7 257.4 234.1 258.2 234.2 259.2 C234.3 260.2 234.3 261.1 234.1 262.1 C233.9 263.2 233.7 264.5 233.2 265.5 C232.7 266.5 232.0 267.3 231.2 268.3 C230.4 269.3 229.5 270.5 228.5 271.5 C227.5 272.5 225.7 273.9 225.1 274.4" stroke-width="1.7" fill="none" />
<path d="M178.2 226.9 C178.6 226.3 179.6 224.5 180.4 223.4 C181.2 222.3 182.3 221.3 183.3 220.3 C184.3 219.3 185.2 218.1 186.2 217.2 C187.2 216.3 188.4 215.3 189.4 214.7 C190.4 214.1 191.2 213.8 192.0 213.5 C192.8 213.2 194.1 213.2 194.5 213.2" stroke-width="1.12" fill="none" />
<path d="M178.2 226.9 C178.8 226.6 180.3 225.4 181.5 224.8 C182.7 224.2 183.9 223.7 185.3 223.4 C186.7 223.1 188.5 222.8 190.0 222.8 C191.5 222.8 193.0 223.0 194.5 223.4 C196.0 223.8 197.7 224.6 199.2 225.4 C200.7 226.2 202.2 227.3 203.7 228.5 C205.2 229.7 206.7 231.3 208.0 232.8 C209.3 234.3 210.6 236.0 211.8 237.7 C213.0 239.4 214.2 241.3 215.2 243.2 C216.2 245.1 217.2 246.8 218.0 248.9 C218.8 251.0 219.6 253.3 220.3 255.5 C221.0 257.7 221.6 260.2 222.0 262.1 C222.4 264.0 222.6 265.5 222.7 267.0 C222.8 268.5 222.9 269.7 222.6 271.3 C222.3 272.9 221.3 275.5 221.0 276.4" stroke-width="1.12" fill="none" />
<path d="M186.6 222.5 C187.4 222.4 189.8 221.9 191.3 221.9 C192.8 221.9 194.3 222.1 195.8 222.5 C197.3 222.9 199.0 223.7 200.5 224.5 C202.0 225.3 203.5 226.4 205.0 227.6 C206.5 228.8 208.0 230.4 209.3 231.9 C210.7 233.4 211.9 235.1 213.1 236.8 C214.3 238.5 215.5 240.4 216.5 242.3 C217.5 244.2 218.5 245.9 219.3 248.0 C220.2 250.1 220.9 252.4 221.6 254.6 C222.3 256.8 222.9 259.3 223.3 261.2 C223.7 263.1 223.9 264.6 224.0 266.1 C224.1 267.6 224.2 268.8 223.9 270.4 C223.6 272.0 222.6 274.6 222.3 275.5" stroke-width="0.98" fill="none" />
<path d="M188.4 223.8 C189.2 223.9 191.4 224.0 192.9 224.4 C194.4 224.8 196.1 225.6 197.6 226.4 C199.1 227.2 200.6 228.3 202.1 229.5 C203.6 230.7 205.1 232.3 206.4 233.8 C207.8 235.3 209.0 237.0 210.2 238.7 C211.4 240.4 212.6 242.3 213.6 244.2 C214.6 246.1 215.6 247.8 216.4 249.9 C217.2 252.0 218.0 254.3 218.7 256.5 C219.4 258.7 220.0 261.2 220.4 263.1 C220.8 265.0 221.0 266.5 221.1 268.0 C221.2 269.5 221.3 270.7 221.0 272.3 C220.7 273.9 219.7 276.5 219.4 277.4" stroke-width="0.98" fill="none" />
<path d="M211.3 229.0 L215.9 225.9" stroke-width="0.98" fill="none" />
<path d="M213.4 231.5 L219.0 229.0" stroke-width="0.98" fill="none" />
<path d="M215.4 234.6 L221.5 232.0" stroke-width="0.98" fill="none" />
<path d="M218.0 237.7 L223.1 235.6" stroke-width="0.98" fill="none" />
<path d="M225.6 261.1 L232.2 258.1" stroke-width="0.98" fill="none" />
<path d="M226.1 264.2 L232.8 261.6" stroke-width="0.98" fill="none" />
<path d="M226.6 267.2 L232.2 265.2" stroke-width="0.98" fill="none" />
<path d="M226.1 270.3 L230.2 268.8" stroke-width="0.98" fill="none" />
<path d="M184.3 218.8 C185.1 218.5 187.3 217.3 189.0 216.9 C190.7 216.5 192.5 215.8 194.5 216.2 C196.5 216.6 198.6 218.0 201.0 219.5 C203.4 221.0 206.5 222.9 208.8 225.4 C211.1 227.9 212.9 230.8 214.9 234.6 C216.9 238.3 219.1 243.7 221.0 247.9 C222.9 252.2 225.1 257.1 226.1 260.1 C227.1 263.2 227.2 264.2 227.1 266.2 C227.0 268.2 225.8 271.0 225.5 272.0" stroke-width="0.98" fill="none" />
<path d="M182.3 221.5 C183.2 221.2 186.1 219.8 188.0 219.4 C189.9 219.0 192.0 218.4 194.0 218.8 C196.0 219.2 197.8 220.3 200.0 221.8 C202.2 223.3 204.8 225.2 207.0 227.6 C209.2 230.0 211.0 232.8 213.0 236.5 C215.0 240.2 217.2 245.3 219.0 249.5 C220.8 253.7 222.9 258.3 223.8 261.5 C224.7 264.7 224.6 266.4 224.5 268.5 C224.4 270.6 223.2 273.1 223.0 274.0" stroke-width="0.98" fill="none" />
<path d="M155.5 238.0 L178.2 226.9 L185.3 224.4 L194.5 224.4 L203.7 229.5 L211.8 238.7 L216.0 250.0 L186.0 262.0Z" stroke-width="1.0" fill="#fff" class="ns"/>
<path d="M138.2 228.9 L133.0 230.0 L128.2 232.5 L124.5 236.3 L121.5 241.0 L119.5 246.0 L118.5 250.6 L118.5 254.9 L119.6 259.0 L121.0 262.0 L123.4 265.3 L127.2 268.7 L131.0 270.0 L150.0 262.0 L156.8 237.7Z" stroke-width="1.0" fill="#fff" class="ns"/>
<path d="M138.2 228.9 C137.3 229.1 134.7 229.4 133.0 230.0 C131.3 230.6 129.6 231.4 128.2 232.5 C126.8 233.6 125.6 234.9 124.5 236.3 C123.4 237.7 122.3 239.4 121.5 241.0 C120.7 242.6 120.0 244.4 119.5 246.0 C119.0 247.6 118.7 249.1 118.5 250.6 C118.3 252.1 118.3 253.5 118.5 254.9 C118.7 256.3 119.2 257.8 119.6 259.0 C120.0 260.2 120.4 260.9 121.0 262.0 C121.6 263.1 122.4 264.2 123.4 265.3 C124.4 266.4 125.9 267.9 127.2 268.7 C128.5 269.5 130.4 269.8 131.0 270.0" stroke-width="1.12" fill="none" />
<path d="M138.2 228.9 C138.7 229.0 141.5 228.9 143.4 229.8 C145.3 230.7 155.5 236.9 156.8 237.7" stroke-width="1.12" fill="none" />
<path d="M118.7 254.9 L130.6 261.6" stroke-width="0.98" fill="none" />
<path d="M131.0 266.8 C131.1 263.2 131.2 262.8 132.0 260.1 C132.8 257.4 134.4 253.3 135.8 250.6 C137.2 247.9 138.7 245.9 140.6 243.9 C142.5 241.9 145.0 239.9 147.2 238.7 C149.4 237.5 150.9 236.7 153.9 236.8 C156.9 237.0 162.0 238.4 165.3 239.6 C168.6 240.8 171.4 242.1 173.9 243.9 C176.4 245.7 178.6 247.6 180.6 250.6 C182.6 253.6 184.4 257.9 186.0 262.0 C187.6 266.1 189.5 269.5 190.0 275.0 C190.5 280.5 191.0 290.0 189.0 295.0 C187.0 300.0 182.0 303.0 178.0 305.0 C174.0 307.0 169.7 307.0 165.0 307.0 C160.3 307.0 154.5 306.8 150.0 305.0 C145.5 303.2 141.1 299.8 138.0 296.0 C134.9 292.2 132.7 286.9 131.5 282.0 C130.3 277.1 130.9 270.4 131.0 266.8Z" stroke-width="1.0" fill="#fff" class="ns"/>
<path d="M132.0 260.1 C132.2 259.2 132.9 256.6 133.5 255.0 C134.1 253.4 135.1 251.9 135.8 250.6 C136.6 249.3 137.2 248.1 138.0 247.0 C138.8 245.9 139.7 244.9 140.6 243.9 C141.5 242.9 142.6 241.9 143.7 241.0 C144.8 240.1 146.1 239.3 147.2 238.7 C148.3 238.1 149.4 237.7 150.5 237.4 C151.6 237.1 153.3 236.9 153.9 236.8" stroke-width="1.6" fill="none" />
<path d="M130.6 266.8 C130.9 265.8 131.5 263.1 132.2 261.0 C132.9 258.9 133.9 256.3 134.9 254.4 C135.9 252.5 136.9 250.9 138.0 249.5 C139.1 248.1 140.4 246.9 141.5 245.8 C142.6 244.7 143.7 243.9 144.8 243.0 C145.9 242.1 147.1 241.2 148.2 240.6 C149.3 240.0 150.5 239.8 151.5 239.5 C152.5 239.2 153.9 239.2 154.4 239.1" stroke-width="0.98" fill="none" />
<path d="M155.5 238.0 L178.2 226.9" stroke-width="1.12" fill="none" />
<path d="M159.6 249.1 L199.6 226.4" stroke-width="0.98" fill="none" />
<path d="M153.5 237.8 C154.4 237.8 157.2 237.8 159.0 238.0 C160.8 238.2 162.7 238.5 164.5 239.0 C166.3 239.5 168.0 240.2 169.6 241.0 C171.2 241.8 172.9 242.8 174.3 243.9 C175.7 245.0 177.0 246.2 178.2 247.4 C179.4 248.6 180.6 250.0 181.6 251.3 C182.6 252.6 183.4 253.8 184.2 255.0 C185.0 256.2 185.5 257.2 186.5 258.6 C187.5 260.0 189.6 262.7 190.2 263.5" stroke-width="0.98" fill="none" />
<path d="M146.3 246.8 C146.9 246.7 148.4 246.3 149.8 246.4 C151.2 246.5 153.1 246.7 154.9 247.2 C156.7 247.7 159.0 248.4 160.8 249.4 C162.6 250.4 164.1 251.7 165.5 253.0 C166.9 254.3 168.2 255.8 169.4 257.4 C170.6 259.0 171.8 260.8 172.8 262.6 C173.8 264.4 174.8 266.5 175.5 268.4 C176.2 270.3 176.8 272.2 177.2 274.0 C177.6 275.8 177.8 277.5 178.0 279.4 C178.2 281.3 178.2 283.4 178.1 285.5 C178.0 287.6 177.6 289.9 177.3 291.7 C177.0 293.4 176.7 294.6 176.2 296.0 C175.7 297.4 175.1 299.0 174.3 300.2 C173.5 301.4 172.6 302.2 171.6 303.0 C170.6 303.8 169.5 304.6 168.2 305.1 C166.9 305.6 165.4 306.0 164.0 306.2 C162.6 306.4 161.0 306.5 159.6 306.4 C158.2 306.3 156.8 306.1 155.6 305.8 C154.4 305.5 153.4 305.0 152.2 304.5 C151.0 304.0 149.7 303.4 148.5 302.8 C147.3 302.2 145.7 301.5 145.1 301.2" stroke-width="0.98" fill="none" />
<path d="M168.2 241.5 C167.3 242.1 164.6 243.6 163.0 244.8 C161.4 246.0 159.9 247.3 158.4 248.8 C156.9 250.3 155.2 252.2 153.8 254.0 C152.4 255.8 151.0 257.9 149.8 259.8 C148.6 261.7 147.6 263.5 146.7 265.3 C145.8 267.1 145.0 269.0 144.3 270.9 C143.6 272.8 143.0 274.7 142.5 276.5 C142.0 278.3 141.4 281.0 141.2 281.9" stroke-width="0.98" fill="none" />
<path d="M131.0 266.8 C131.6 265.3 132.9 263.8 133.9 263.0 C134.9 262.2 135.9 261.9 137.0 261.8 C138.1 261.7 138.9 261.7 140.6 262.4 C142.3 263.1 145.4 264.7 147.3 266.0 C149.2 267.3 150.4 268.6 151.8 270.0 C153.2 271.4 154.7 272.9 155.9 274.5 C157.1 276.1 158.1 277.7 159.0 279.3 C159.9 280.9 160.8 282.7 161.4 284.3 C162.0 285.9 162.4 287.4 162.6 288.8 C162.8 290.2 162.8 291.5 162.7 292.9 C162.6 294.3 162.3 295.8 161.8 297.0 C161.3 298.2 160.4 299.3 159.6 300.2 C158.8 301.1 157.8 302.0 156.8 302.6 C155.8 303.2 154.6 303.7 153.5 303.9 C152.4 304.1 151.2 304.2 150.0 304.0 C148.8 303.8 147.6 303.4 146.1 302.7 C144.6 301.9 142.6 300.8 141.0 299.5 C139.4 298.2 137.8 296.8 136.5 295.0 C135.2 293.2 133.9 291.0 133.0 288.5 C132.1 286.0 131.2 282.8 130.8 280.0 C130.4 277.2 130.3 274.2 130.3 272.0 C130.3 269.8 130.4 268.3 131.0 266.8Z" stroke-width="0.98" fill="none" />
<path d="M146.6 291.0 L145.9 291.5 L145.1 291.8 L144.2 291.9 L143.2 291.8 L142.1 291.6 L141.1 291.2 L140.0 290.6 L138.9 289.9 L137.9 289.0 L136.9 288.1 L136.1 287.0 L135.3 285.9 L134.7 284.8 L134.3 283.7 L134.0 282.5 L133.9 281.5 L133.9 280.5 L134.1 279.6 L134.5 278.8 L135.0 278.2 L135.7 277.7 L136.5 277.4 L137.4 277.3 L138.4 277.4 L139.5 277.6 L140.5 278.0 L141.6 278.6 L142.7 279.3 L143.7 280.2 L144.7 281.1 L145.5 282.2 L146.3 283.3 L146.9 284.4 L147.3 285.5 L147.6 286.7 L147.7 287.7 L147.7 288.7 L147.5 289.6 L147.1 290.4 L146.6 291.0Z" stroke-width="1.5" fill="#fff" />
<path d="M177.9 276.4 C178.1 274.8 178.3 269.6 179.3 266.9 C180.3 264.2 182.3 261.9 184.0 260.2 C185.7 258.5 187.2 257.6 189.3 256.9 C191.4 256.2 194.1 255.6 196.4 256.0 C198.7 256.4 201.3 257.8 203.1 259.3 C204.9 260.8 206.7 264.1 207.4 265.0" stroke-width="0.98" fill="none" />
<path d="M205.0 266.4 C201.5 264.6 200.1 263.2 197.4 263.1 C194.7 263.0 191.3 263.9 188.8 265.5 C186.3 267.1 184.2 269.7 182.6 272.6 C181.0 275.5 180.0 280.1 179.3 283.1 C178.6 286.1 178.2 287.9 178.3 290.7 C178.4 293.5 177.2 296.4 180.0 300.0 C182.8 303.6 189.8 310.0 195.0 312.0 C200.2 314.0 205.8 315.7 211.0 312.0 C216.2 308.3 224.8 296.4 226.0 290.0 C227.2 283.6 221.8 277.5 218.3 273.6 C214.8 269.7 208.5 268.1 205.0 266.4Z" stroke-width="1.0" fill="#fff" class="ns"/>
<path d="M205.0 266.4 C204.3 266.0 202.3 264.4 201.0 263.8 C199.7 263.2 198.7 263.1 197.4 263.1 C196.1 263.1 194.4 263.4 193.0 263.8 C191.6 264.2 190.1 264.7 188.8 265.5 C187.5 266.3 186.3 267.6 185.3 268.8 C184.3 270.0 183.4 271.1 182.6 272.6 C181.8 274.1 181.1 275.9 180.6 277.6 C180.1 279.4 179.7 281.5 179.3 283.1 C179.0 284.7 178.7 285.7 178.5 287.0 C178.3 288.3 178.3 290.1 178.3 290.7" stroke-width="1.12" fill="none" />
<path d="M203.1 265.5 C202.2 265.4 199.6 264.7 198.0 264.8 C196.4 264.9 195.0 265.6 193.6 266.4 C192.2 267.2 190.6 268.3 189.5 269.5 C188.4 270.7 187.7 272.1 186.9 273.6 C186.1 275.1 185.4 276.8 184.8 278.4 C184.2 280.0 183.9 281.7 183.6 283.1 C183.3 284.5 183.0 285.7 182.8 287.0 C182.6 288.3 182.6 290.1 182.6 290.7" stroke-width="0.98" fill="none" />
<path d="M198.3 270.7 C197.7 271.0 195.9 271.8 194.8 272.4 C193.7 273.0 192.7 273.5 191.7 274.5 C190.7 275.5 189.8 277.1 189.0 278.5 C188.2 279.9 187.5 281.7 186.9 283.1 C186.3 284.5 185.9 285.7 185.7 287.0 C185.5 288.3 185.4 289.1 185.5 290.7 C185.6 292.3 186.2 295.4 186.4 296.4" stroke-width="1.12" fill="none" />
<path d="M203.1 265.5 L217.9 273.6" stroke-width="1.12" fill="none" />
<path d="M186.4 296.4 L199.0 309.5" stroke-width="0.98" fill="none" />
<path d="M219.0 274.2 L220.8 275.2 L222.4 276.7 L223.7 278.6 L224.7 280.8 L225.4 283.3 L225.7 286.0 L225.7 288.9 L225.3 291.9 L224.5 294.9 L223.4 297.8 L222.1 300.6 L220.4 303.2 L218.6 305.6 L216.5 307.6 L214.3 309.3 L212.1 310.5 L209.8 311.4 L207.6 311.7 L205.4 311.6 L203.4 311.0 L201.6 310.0 L200.0 308.5 L198.7 306.6 L197.7 304.4 L197.0 301.9 L196.7 299.2 L196.7 296.3 L197.1 293.3 L197.9 290.3 L199.0 287.4 L200.3 284.6 L202.0 282.0 L203.8 279.6 L205.9 277.6 L208.1 275.9 L210.3 274.7 L212.6 273.8 L214.8 273.5 L217.0 273.6 L219.0 274.2Z" stroke-width="1.5" fill="#fff" />
<path d="M217.1 279.1 L218.4 279.8 L219.5 280.9 L220.4 282.3 L221.1 283.9 L221.6 285.8 L221.8 287.8 L221.7 290.0 L221.4 292.2 L220.8 294.4 L220.0 296.7 L219.0 298.8 L217.8 300.7 L216.4 302.5 L214.9 304.1 L213.3 305.3 L211.7 306.3 L210.0 306.9 L208.4 307.2 L206.8 307.1 L205.3 306.7 L204.0 306.0 L202.9 304.9 L202.0 303.5 L201.3 301.9 L200.8 300.0 L200.6 298.0 L200.7 295.8 L201.0 293.6 L201.6 291.4 L202.4 289.1 L203.4 287.0 L204.6 285.1 L206.0 283.3 L207.5 281.7 L209.1 280.5 L210.7 279.5 L212.4 278.9 L214.0 278.6 L215.6 278.7 L217.1 279.1Z" stroke-width="1.5" fill="none" />
<path d="M211.7 281.7 L209.8 303.1" stroke-width="0.98" fill="none" />
<path d="M214.5 280.2 L212.6 301.2" stroke-width="0.98" fill="none" />
<path d="M177.7 291.4 L197.7 306.9" stroke-width="0.98" fill="none" />
<path d="M179.7 290.6 L186.4 294.5" stroke-width="0.98" fill="none" />
<path d="M193.2 298.6 L196.6 300.9" stroke-width="0.98" fill="none" />
<path d="M182.1 299.6 L191.9 308.6" stroke-width="0.98" fill="none" />
<path d="M179.7 292.2 L183.8 290.6 L184.2 294.7Z" stroke-width="0.98" fill="none" />
<path d="M193.5 295.9 L193.5 296.4 L193.3 296.9 L193.1 297.4 L192.8 297.8 L192.4 298.2 L192.0 298.6 L191.5 298.8 L191.0 299.0 L190.5 299.2 L189.9 299.2 L189.3 299.2 L188.8 299.0 L188.3 298.8 L187.8 298.6 L187.4 298.2 L187.0 297.8 L186.7 297.4 L186.5 296.9 L186.3 296.4 L186.3 295.9 L186.3 295.4 L186.5 294.9 L186.7 294.4 L187.0 294.0 L187.4 293.6 L187.8 293.2 L188.3 293.0 L188.8 292.8 L189.3 292.6 L189.9 292.6 L190.5 292.6 L191.0 292.8 L191.5 293.0 L192.0 293.2 L192.4 293.6 L192.8 294.0 L193.1 294.4 L193.3 294.9 L193.5 295.4 L193.5 295.9Z" stroke-width="0.9" fill="#fff" />
<path d="M191.1 312.2 L208.3 311.4" stroke-width="0.98" fill="none" />
<path d="M189.5 319.2 L207.4 312.2" stroke-width="0.98" fill="none" />
<path d="M188.3 306.0 L188.6 312.5" stroke-width="0.98" fill="none" /><text x="0" y="0" transform="translate(140.9,285.2) rotate(50) translate(-5.80,2)" style="font-size:5.6px;font-weight:bold;fill:#111">T&amp;S</text></g></defs>
<use href="#fl"/>
<use href="#fl" transform="translate(230.3,133.0)"/>
<path d="M243.8 261.8 L244.6 222.7 L247.0 211.2 L254.4 203.9 L264.2 201.4 L277.2 203.9 L287.9 209.6 L294.4 216.9 L295.5 219.5 L469.0 319.0 L476.3 322.7 L482.0 321.0 L500.0 310.7 L560.0 350.0 L420.0 420.0 L412.7 353.7 L297.7 286.3 L256.0 263.0Z" stroke-width="1.0" fill="#fff" class="ns"/>
<path d="M205.0 213.6 L285.0 167.4 L300.0 200.0 L260.0 265.0 L225.0 275.0Z" stroke-width="1.0" fill="#fff" class="ns"/>
<path d="M205.0 213.6 L281.0 169.7" stroke-width="1.12" fill="none" />
<path d="M212.0 220.0 L296.0 171.5" stroke-width="0.98" fill="none" />
<path d="M225.0 271.6 L240.0 263.0" stroke-width="1.12" fill="none" />
<path d="M243.8 261.8 C243.9 258.2 244.1 246.5 244.2 240.0 C244.3 233.5 244.1 227.5 244.6 222.7 C245.1 217.9 245.4 214.3 247.0 211.2 C248.6 208.1 251.5 205.5 254.4 203.9 C257.3 202.3 260.4 201.4 264.2 201.4 C268.0 201.4 273.2 202.5 277.2 203.9 C281.1 205.3 285.0 207.4 287.9 209.6 C290.8 211.8 293.1 215.2 294.4 216.9 C295.7 218.6 295.3 219.3 295.5 219.8" stroke-width="1.12" fill="none" />
<path d="M256.0 262.5 C256.1 259.6 256.3 250.8 256.4 245.0 C256.5 239.2 256.4 232.3 256.8 227.6 C257.2 222.9 257.4 219.7 258.5 216.9 C259.6 214.1 262.6 211.9 263.4 210.9" stroke-width="0.98" fill="none" />
<path d="M240.0 263.0 C240.7 262.8 242.3 261.9 244.0 261.6 C245.7 261.3 248.0 261.2 250.0 261.3 C252.0 261.4 254.0 261.8 256.0 262.5 C258.0 263.2 261.0 265.2 262.0 265.7" stroke-width="1.12" fill="none" />
<path d="M254.4 204.7 L471.8 331.0" stroke-width="1.12" fill="none" />
<path d="M295.5 219.8 L469.1 321.2" stroke-width="1.12" fill="none" />
<path d="M262.0 265.7 L301.3 288.1" stroke-width="1.12" fill="none" />
<path d="M369.2 329.4 L413.3 354.9" stroke-width="1.12" fill="none" />
<path d="M469.1 321.2 L463.6 326.7" stroke-width="0.98" fill="none" />
<path d="M469.1 321.2 C469.9 321.5 472.5 322.6 474.0 322.9 C475.5 323.2 477.0 323.1 478.3 322.9 C479.6 322.7 481.1 322.0 481.6 321.8" stroke-width="1.12" fill="none" />
<path d="M481.6 321.8 C481.2 322.4 480.3 324.4 479.4 325.6 C478.5 326.8 477.4 327.9 476.1 328.8 C474.8 329.7 472.5 330.6 471.8 331.0" stroke-width="0.98" fill="none" />
<path d="M463.6 326.7 C461.7 327.5 455.7 329.9 452.2 331.6 C448.7 333.3 445.1 335.2 442.4 337.0 C439.7 338.8 437.6 340.5 435.9 342.4 C434.2 344.3 432.7 347.4 432.1 348.4" stroke-width="1.12" fill="none" />
<path d="M471.8 331.0 C470.0 331.6 464.5 333.4 460.9 334.8 C457.3 336.2 453.4 337.6 450.0 339.2 C446.6 340.8 443.0 343.0 440.2 344.6 C437.4 346.2 434.4 348.3 433.2 349.0" stroke-width="0.98" fill="none" />
<path d="M481.6 321.8 L511.6 304.9" stroke-width="1.12" fill="none" />
<path d="M444.0 353.1 L527.0 305.2" stroke-width="0.98" fill="none" />
<path d="M462.0 403.7 L544.0 356.4" stroke-width="1.12" fill="none" />
<path d="M315.1 283.3 C315.6 282.5 316.8 280.1 318.0 278.6 C319.2 277.1 320.8 275.6 322.4 274.3 C324.0 273.0 325.6 271.9 327.5 270.8 C329.4 269.7 331.6 268.6 333.9 267.8 C336.1 267.0 338.6 266.4 341.0 265.9 C343.4 265.4 346.1 265.0 348.6 264.9 C351.1 264.8 353.6 264.8 356.0 265.0 C358.4 265.2 361.7 266.2 362.8 266.4" stroke-width="1.12" fill="none" />
<path d="M329.0 275.1 C330.2 274.6 333.8 272.8 336.5 271.8 C339.2 270.9 342.4 270.1 345.3 269.4 C348.2 268.7 351.1 268.2 354.0 267.7 C356.9 267.2 361.3 266.8 362.8 266.6" stroke-width="0.98" fill="none" />
<path d="M363.3 266.9 C362.8 268.2 361.2 272.0 360.5 275.0 C359.8 278.0 359.6 280.8 359.2 285.0 C358.8 289.2 358.4 295.0 358.2 300.0 C358.0 305.0 358.0 311.3 358.0 315.0 C358.0 318.7 358.3 320.8 358.4 322.0" stroke-width="0.98" fill="none" />
<path d="M363.3 266.9 C363.8 268.2 365.7 272.0 366.5 275.0 C367.3 278.0 367.7 280.8 368.2 285.0 C368.7 289.2 369.1 295.0 369.3 300.0 C369.5 305.0 369.5 311.7 369.5 315.0 C369.5 318.3 369.3 319.2 369.3 320.0" stroke-width="0.98" fill="none" />
<path d="M358.4 321.5 C358.8 321.1 359.9 319.7 361.0 319.2 C362.1 318.7 363.6 318.5 365.0 318.4 C366.4 318.3 368.6 318.6 369.3 318.6" stroke-width="0.98" fill="none" />
<path d="M358.4 321.0 C358.5 321.8 358.4 324.3 358.8 325.5 C359.2 326.7 360.0 327.4 361.0 328.0 C362.0 328.6 363.6 329.0 365.0 329.2 C366.4 329.4 368.5 329.4 369.2 329.4" stroke-width="1.12" fill="none" />
<path d="M346.3 333.8 L358.4 326.8" stroke-width="1.12" fill="none" />
<path d="M363.3 266.6 C364.1 266.3 366.6 265.3 368.0 264.9 C369.4 264.5 370.4 264.1 371.5 264.0 C372.6 263.9 374.2 264.2 374.7 264.2" stroke-width="0.98" fill="none" />
<use href="#nt"/>
<use href="#nt" transform="translate(231.7,133.7)"/>
<path d="M332.0 346.8 L333.7 346.5 L335.3 345.9 L336.8 345.2 L338.3 344.3 L339.6 343.2 L340.8 342.0 L341.9 340.6 L342.8 339.1 L343.7 337.4 L344.3 335.6 L344.9 333.8 L345.3 331.8 L345.5 329.7 L345.6 327.5 L345.6 325.3 L345.4 323.0 L345.1 320.7 L344.6 318.4 L343.9 316.0 L343.2 313.7 L342.3 311.4 L341.2 309.1 L340.1 306.9 L338.8 304.7 L337.4 302.6 L335.9 300.6 L334.3 298.6 L332.7 296.8 L330.9 295.2 L329.2 293.6 L327.3 292.2 L325.4 290.9 L323.5 289.8 L321.6 288.9 L319.7 288.1 L317.8 287.5 L315.8 287.0 L314.0 286.8 L312.1 286.7 L310.4 286.9 L300.0 290.0 L290.7 296.9 L281.0 306.0 L275.6 318.8 L277.7 312.6 L277.0 314.4 L276.4 316.3 L276.1 318.4 L276.0 320.7 L276.1 323.1 L276.4 325.6 L276.9 328.1 L277.7 330.7 L278.6 333.3 L279.7 335.9 L281.0 338.5 L282.5 340.9 L284.1 343.3 L285.8 345.5 L287.6 347.6 L289.6 349.4 L291.5 351.1 L293.5 352.5 L295.6 353.7 L297.6 354.6 L299.6 355.3 L298.8 355.1 L311.3 353.8 L322.6 350.1Z" stroke-width="1.0" fill="#fff" class="ns"/>
<path d="M310.4 286.9 L311.8 286.7 L313.2 286.8 L314.7 286.9 L316.2 287.1 L317.8 287.5 L319.3 287.9 L320.8 288.5 L322.4 289.2 L323.9 290.0 L325.4 290.9 L326.9 291.9 L328.4 293.0 L329.9 294.2 L331.3 295.5 L332.7 296.8 L334.0 298.3 L335.3 299.8 L336.5 301.4 L337.7 303.0 L338.8 304.7 L339.8 306.4 L340.8 308.2 L341.6 310.0 L342.4 311.8 L343.2 313.7 L343.8 315.6 L344.3 317.4 L344.8 319.3 L345.1 321.2 L345.4 323.0 L345.6 324.8 L345.6 326.6 L345.6 328.4 L345.5 330.1 L345.3 331.8 L345.0 333.4 L344.6 334.9 L344.1 336.4 L343.5 337.8 L342.8 339.1 L342.1 340.3 L341.2 341.4 L340.3 342.5 L339.3 343.4 L338.3 344.3 L337.1 345.0 L335.9 345.6 L334.7 346.1 L333.4 346.5 L332.0 346.8" stroke-width="1.9" fill="none" />
<path d="M275.6 318.8 C276.2 317.2 277.6 311.7 279.0 309.0 C280.4 306.3 282.1 304.5 284.0 302.5 C285.9 300.5 288.0 298.9 290.7 296.9 C293.4 294.9 296.6 292.3 300.0 290.6 C303.4 288.9 309.4 287.5 311.3 286.9" stroke-width="1.12" fill="none" />
<path d="M296.5 354.6 C297.8 354.7 301.5 355.1 304.0 355.0 C306.5 354.9 308.2 354.6 311.3 353.8 C314.4 353.0 319.1 351.4 322.6 350.1 C326.2 348.8 330.9 346.7 332.6 346.0" stroke-width="1.12" fill="none" />
<path d="M296.3 354.1 L298.3 354.9 L300.2 355.5 L302.1 355.7 L303.9 355.8 L305.5 355.5 L307.1 355.0 L308.5 354.2 L309.8 353.2 L310.9 351.9 L311.8 350.4 L312.5 348.6 L313.0 346.7 L313.3 344.6 L313.4 342.4 L313.3 340.1 L313.0 337.6 L312.5 335.1 L311.8 332.6 L310.9 330.0 L309.8 327.5 L308.5 325.0 L307.1 322.5 L305.5 320.2 L303.9 318.0 L302.1 316.0 L300.2 314.1 L298.3 312.4 L296.3 311.0 L294.3 309.8 L292.4 308.8 L290.4 308.1 L288.5 307.6 L286.7 307.4 L284.9 307.5 L283.3 307.8 L281.8 308.5 L280.4 309.3 L279.2 310.5 L278.2 311.8 L277.3 313.4 L276.7 315.2 L276.3 317.2" stroke-width="1.12" fill="none" />
<path d="M297.8 353.6 L299.6 354.1 L301.4 354.4 L303.1 354.5 L304.8 354.3 L306.3 353.8 L307.6 353.1 L308.9 352.1 L309.9 350.9 L310.8 349.5 L311.5 347.9 L312.0 346.1 L312.3 344.1 L312.4 342.0 L312.4 339.7 L312.1 337.4 L311.6 335.0 L310.9 332.6 L310.0 330.1 L309.0 327.7 L307.8 325.3 L306.4 323.0 L304.9 320.8 L303.3 318.7 L301.6 316.7 L299.8 315.0 L298.0 313.4 L296.1 312.0 L294.2 310.8 L292.3 309.9 L290.5 309.3 L288.7 308.8 L286.9 308.7 L285.3 308.8 L283.7 309.2 L282.3 309.8 L281.0 310.7 L279.9 311.8 L278.9 313.1 L278.1 314.7 L277.6 316.4" stroke-width="0.98" fill="none" />
<path d="M290.7 297.3 C291.8 296.6 294.8 294.2 297.0 293.0 C299.2 291.8 301.6 290.7 304.0 289.8 C306.4 288.9 310.1 288.0 311.3 287.6" stroke-width="1.2" fill="none" />
<path d="M290.7 298.0 C292.1 297.8 296.4 297.1 299.0 296.5 C301.6 295.9 303.9 294.9 306.0 294.2 C308.1 293.5 310.4 292.8 311.3 292.5" stroke-width="1.2" fill="none" />
<path d="M307.5 293.8 L317.6 288.1" stroke-width="1.2" fill="none" />
<path d="M311.3 295.7 L321.3 290.6" stroke-width="1.2" fill="none" />
<path d="M314.4 298.2 L325.1 292.5" stroke-width="1.2" fill="none" />
<path d="M314.4 298.2 C314.0 299.0 312.5 301.4 312.2 303.0 C311.9 304.6 312.0 306.5 312.5 308.0 C313.0 309.5 313.9 310.9 315.1 311.9 C316.3 312.9 318.0 313.7 319.5 314.2 C321.0 314.7 322.4 314.9 324.0 315.0 C325.6 315.1 328.5 315.1 329.4 315.1" stroke-width="1.2" fill="none" />
<path d="M318.2 298.8 C317.8 299.6 316.2 302.1 315.9 303.5 C315.6 304.9 316.0 306.3 316.5 307.5 C317.0 308.7 317.5 309.7 318.7 310.5 C319.9 311.3 321.9 312.0 323.8 312.3 C325.7 312.6 329.1 312.5 330.1 312.5" stroke-width="1.2" fill="none" />
<path d="M329.4 315.1 L340.1 308.8" stroke-width="1.2" fill="none" />
<path d="M331.3 320.1 L342.6 313.8" stroke-width="1.2" fill="none" />
<path d="M332.6 324.4 L343.8 318.8" stroke-width="1.2" fill="none" />
<path d="M332.6 324.4 C332.0 324.8 330.1 325.9 329.0 327.0 C327.9 328.1 326.9 329.6 326.3 331.0 C325.8 332.4 325.7 333.8 325.7 335.1 C325.7 336.4 326.0 337.8 326.5 339.0 C327.0 340.2 327.7 341.4 328.6 342.5 C329.5 343.6 331.3 345.2 331.9 345.7" stroke-width="1.2" fill="none" />
<path d="M335.1 325.1 C334.5 325.6 332.4 326.9 331.5 328.0 C330.6 329.1 330.1 330.1 329.6 331.5 C329.2 332.9 328.7 335.0 328.8 336.3 C328.9 337.6 329.7 338.7 330.0 339.5 C330.3 340.3 330.1 340.5 330.7 341.3 C331.3 342.1 333.3 344.0 333.8 344.5" stroke-width="1.2" fill="none" />
<path d="M331.9 345.7 L340.1 340.7" stroke-width="1.2" fill="none" />
<path d="M329.5 348.0 L336.0 344.5" stroke-width="1.2" fill="none" />
<use href="#hd"/>
<use href="#hd" transform="translate(231.6,135.0)"/>
<path d="M290.0 312.9 L96.3 424.7 L86.0 429.8 L75.1 437.5 L64.5 446.8 L55.1 457.6 L46.0 471.5 L37.5 487.6 L30.6 502.5 L25.0 517.6 L21.3 531.5 L18.8 545.2 L17.0 557.7 L54.6 557.7 L56.2 545.0 L58.8 532.7 L62.4 521.5 L67.6 510.1 L74.4 497.5 L82.6 485.1 L91.0 474.2 L100.1 465.1 L108.0 459.6 L116.3 455.3 L296.5 352.0Z" stroke-width="1.0" fill="#fff" class="ns"/>
<path d="M96.3 424.7 L290.0 312.9" stroke-width="1.12" fill="none" />
<path d="M105.0 426.4 L296.0 316.1" stroke-width="0.98" fill="none" />
<path d="M116.3 456.0 L300.0 350.0" stroke-width="1.12" fill="none" />
<path d="M96.3 424.0 C94.6 425.0 89.5 427.6 86.0 429.8 C82.5 432.1 78.7 434.7 75.1 437.5 C71.5 440.3 67.8 443.4 64.5 446.8 C61.2 450.2 58.2 453.5 55.1 457.6 C52.0 461.7 48.9 466.5 46.0 471.5 C43.1 476.5 40.1 482.4 37.5 487.6 C34.9 492.8 32.7 497.5 30.6 502.5 C28.5 507.5 26.6 512.8 25.0 517.6 C23.4 522.4 22.3 526.9 21.3 531.5 C20.3 536.1 19.5 540.8 18.8 545.2 C18.1 549.6 17.3 555.6 17.0 557.7" stroke-width="1.12" fill="none" />
<path d="M105.0 425.7 C103.1 426.8 97.2 429.8 93.5 432.2 C89.8 434.6 86.2 436.9 82.6 440.0 C79.0 443.1 75.3 446.8 72.0 450.6 C68.7 454.4 65.7 458.2 62.6 462.6 C59.5 467.0 56.1 472.2 53.2 477.2 C50.3 482.2 47.6 487.7 45.1 492.6 C42.6 497.5 40.3 501.9 38.2 506.5 C36.1 511.1 34.2 515.5 32.5 520.1 C30.8 524.7 29.4 529.4 28.2 534.0 C26.9 538.6 26.0 542.5 25.0 547.7 C24.0 553.0 22.8 562.5 22.3 565.5" stroke-width="0.98" fill="none" />
<path d="M116.3 455.3 C114.9 456.0 110.7 458.0 108.0 459.6 C105.3 461.2 102.9 462.7 100.1 465.1 C97.3 467.5 93.9 470.9 91.0 474.2 C88.1 477.5 85.4 481.2 82.6 485.1 C79.8 489.0 76.9 493.3 74.4 497.5 C71.9 501.7 69.6 506.1 67.6 510.1 C65.6 514.1 63.9 517.7 62.4 521.5 C60.9 525.3 59.8 528.8 58.8 532.7 C57.8 536.6 56.9 540.8 56.2 545.0 C55.5 549.2 54.9 555.6 54.6 557.7" stroke-width="1.12" fill="none" />
<path d="M115.6 456.5 L116.5 455.8 L117.3 455.0 L118.0 454.0 L118.5 452.9 L119.0 451.6 L119.3 450.2 L119.4 448.7 L119.4 447.2 L119.3 445.5 L119.0 443.8 L118.5 442.0 L118.0 440.3 L117.3 438.5 L116.5 436.7 L115.6 435.0 L114.5 433.4 L113.4 431.8 L112.2 430.3 L111.0 429.0 L109.7 427.7 L108.3 426.6 L107.0 425.7 L105.6 424.9 L104.2 424.2 L102.9 423.8 L101.6 423.5 L100.3 423.5 L99.2 423.6 L98.0 423.9 L97.0 424.3" stroke-width="1.12" fill="none" />
<path d="M16.2 557.1 C9.2 557.4 13.4 559.2 12.5 560.5 C11.6 561.8 11.0 563.0 10.5 564.8 C10.0 566.5 9.8 568.8 9.6 571.0 C9.4 573.2 9.5 574.0 9.5 578.0 C9.5 582.0 9.2 591.1 9.5 595.2 C9.8 599.4 9.8 600.8 11.4 602.9 C13.0 605.0 16.6 606.5 19.0 607.6 C21.4 608.8 23.4 609.2 26.0 609.8 C28.6 610.3 31.8 610.8 34.3 610.9 C36.8 611.0 38.8 610.7 41.0 610.3 C43.2 609.9 44.9 609.8 47.6 608.6 C50.3 607.4 54.9 605.5 57.1 602.9 C59.3 600.3 60.0 599.0 60.6 593.3 C61.2 587.6 60.8 573.5 60.6 568.6 C60.4 563.7 60.2 565.3 59.6 564.0 C59.0 562.7 58.0 561.8 57.1 561.0 C56.2 560.2 61.1 559.6 54.3 559.0 C47.5 558.4 23.2 556.9 16.2 557.1Z" stroke-width="1.12" fill="#fff" class="ns"/>
<path d="M16.2 557.1 C15.6 557.7 13.4 559.2 12.5 560.5 C11.6 561.8 11.0 563.0 10.5 564.8 C10.0 566.5 9.8 568.8 9.6 571.0 C9.4 573.2 9.5 574.0 9.5 578.0 C9.5 582.0 9.2 591.1 9.5 595.2 C9.8 599.4 9.8 600.8 11.4 602.9 C13.0 605.0 16.6 606.5 19.0 607.6 C21.4 608.8 23.4 609.2 26.0 609.8 C28.6 610.3 31.8 610.8 34.3 610.9 C36.8 611.0 38.8 610.7 41.0 610.3 C43.2 609.9 44.9 609.8 47.6 608.6 C50.3 607.4 54.9 605.5 57.1 602.9 C59.3 600.3 60.0 599.0 60.6 593.3 C61.2 587.6 60.8 573.5 60.6 568.6 C60.4 563.7 60.2 565.3 59.6 564.0 C59.0 562.7 58.0 561.8 57.1 561.0 C56.2 560.2 54.8 559.3 54.3 559.0" stroke-width="1.12" fill="none" />
<path d="M54.6 558.4 L54.4 559.6 L54.0 560.8 L53.5 561.9 L52.7 563.0 L51.8 564.0 L50.7 565.0 L49.4 565.9 L47.9 566.7 L46.4 567.5 L44.7 568.1 L42.9 568.6 L41.1 569.1 L39.1 569.4 L37.2 569.5 L35.2 569.6 L33.2 569.5 L31.3 569.4 L29.3 569.1 L27.5 568.6 L25.7 568.1 L24.0 567.5 L22.5 566.7 L21.0 565.9 L19.7 565.0 L18.6 564.0 L17.7 563.0 L16.9 561.9 L16.4 560.8 L16.0 559.6 L15.8 558.4" stroke-width="1.5" fill="none" />
<path d="M53.8 557.9 L53.5 558.9 L53.1 559.9 L52.5 560.8 L51.8 561.7 L50.9 562.6 L49.8 563.4 L48.5 564.2 L47.2 564.8 L45.7 565.5 L44.1 566.0 L42.4 566.4 L40.7 566.8 L38.9 567.0 L37.1 567.1 L35.2 567.2 L33.3 567.1 L31.5 567.0 L29.7 566.8 L28.0 566.4 L26.3 566.0 L24.7 565.5 L23.2 564.8 L21.9 564.2 L20.6 563.4 L19.5 562.6 L18.6 561.7 L17.9 560.8 L17.3 559.9 L16.9 558.9 L16.6 557.9" stroke-width="0.98" fill="none" />
<path d="M60.5 570.6 L60.5 571.5 L60.2 572.4 L59.7 573.3 L59.0 574.2 L58.2 575.1 L57.1 575.9 L55.9 576.7 L54.6 577.4 L53.1 578.1 L51.4 578.7 L49.7 579.3 L47.8 579.8 L45.8 580.2 L43.8 580.6 L41.6 580.8 L39.5 581.0 L37.3 581.2 L35.0 581.2 L32.8 581.2 L30.6 581.0 L28.5 580.8 L26.3 580.6 L24.3 580.2 L22.3 579.8 L20.4 579.3 L18.7 578.7 L17.0 578.1 L15.5 577.4 L14.2 576.7 L13.0 575.9 L11.9 575.1 L11.1 574.2 L10.4 573.3 L9.9 572.4 L9.6 571.5 L9.5 570.6" stroke-width="1.12" fill="none" />
<path d="M60.5 592.6 L60.5 593.5 L60.2 594.4 L59.7 595.2 L59.0 596.1 L58.2 596.9 L57.1 597.7 L55.9 598.5 L54.6 599.2 L53.1 599.8 L51.4 600.4 L49.7 601.0 L47.8 601.4 L45.8 601.8 L43.8 602.2 L41.6 602.5 L39.5 602.6 L37.3 602.8 L35.0 602.8 L32.8 602.8 L30.6 602.6 L28.5 602.5 L26.3 602.2 L24.3 601.8 L22.3 601.4 L20.4 601.0 L18.7 600.4 L17.0 599.8 L15.5 599.2 L14.2 598.5 L13.0 597.7 L11.9 596.9 L11.1 596.1 L10.4 595.2 L9.9 594.4 L9.6 593.5 L9.5 592.6" stroke-width="0.98" fill="none" />
<path d="M49.6 566.5 C50.0 567.8 51.3 570.4 51.8 574.0 C52.3 577.6 52.5 583.7 52.6 588.0 C52.7 592.3 52.7 596.8 52.4 600.0 C52.1 603.2 51.1 606.2 50.8 607.5" stroke-width="0.98" fill="none" />
<path d="M28.2 534.0 C27.7 536.3 26.0 542.5 25.0 547.7 C24.0 553.0 22.8 562.5 22.3 565.5" stroke-width="0.98" fill="none" />
<path d="M27.5 598.5 L41.0 605.5" stroke-width="0.7" fill="none" />
<path d="M27.5 605.5 L41.0 598.5" stroke-width="0.7" fill="none" />
<path d="M34.4 206.7V668" stroke-width="0.75" fill="none" />
<path d="M297.5 65.5V310" stroke-width="0.9" fill="none" />
<path d="M34.9 223.1L297.1 72.2" stroke-width="0.95" fill="none" />
<path d="M34.9 223.1 L42.1 215.2 L45.4 220.9Z" stroke-width="0.3" fill="#111" />
<path d="M297.1 72.2 L289.9 80.1 L286.6 74.4Z" stroke-width="0.3" fill="#111" />
<path d="M448.7 110.6L497.7 82.1" stroke-width="0.95" fill="none" />
<path d="M679.4 244.5L727.9 216.2" stroke-width="0.95" fill="none" />
<path d="M487.9 88.8L718.2 221.6" stroke-width="0.95" fill="none" />
<path d="M487.9 88.8 L498.4 91.0 L495.1 96.8Z" stroke-width="0.3" fill="#111" />
<path d="M718.2 221.6 L707.7 219.4 L711.0 213.6Z" stroke-width="0.3" fill="#111" />
<path d="M642.7 346.8L677.1 365.6H683.4" stroke-width="0.95" fill="none" />
<path d="M642.7 346.8 L653.2 348.8 L650.1 354.6Z" stroke-width="0.3" fill="#111" />
<path d="M34.3 602L31.4 668" stroke-width="0.95" fill="none" />
<path d="M15 660.6L31 661.4" stroke-width="0.95" fill="none" />
<path d="M31.6 661.4 L22.0 664.2 L22.2 657.8Z" stroke-width="0.3" fill="#111" />
<path d="M35.0 661.4 L44.6 658.4 L44.4 664.8Z" stroke-width="0.3" fill="#111" />
<path d="M44 661.2Q56 659.5 64.8 655.8" stroke-width="0.95" fill="none" />
<text x="0" y="0" transform="translate(166.5,135.5) rotate(-30) translate(-15.02,6.4)">200</text>
<text x="0" y="0" transform="translate(607,141.5) rotate(30) translate(-15.02,6.4)">150</text>
<text x="687.5" y="373">Ø51</text>
<text x="67.5" y="660.5">2°</text>
</svg>
</body></html>
